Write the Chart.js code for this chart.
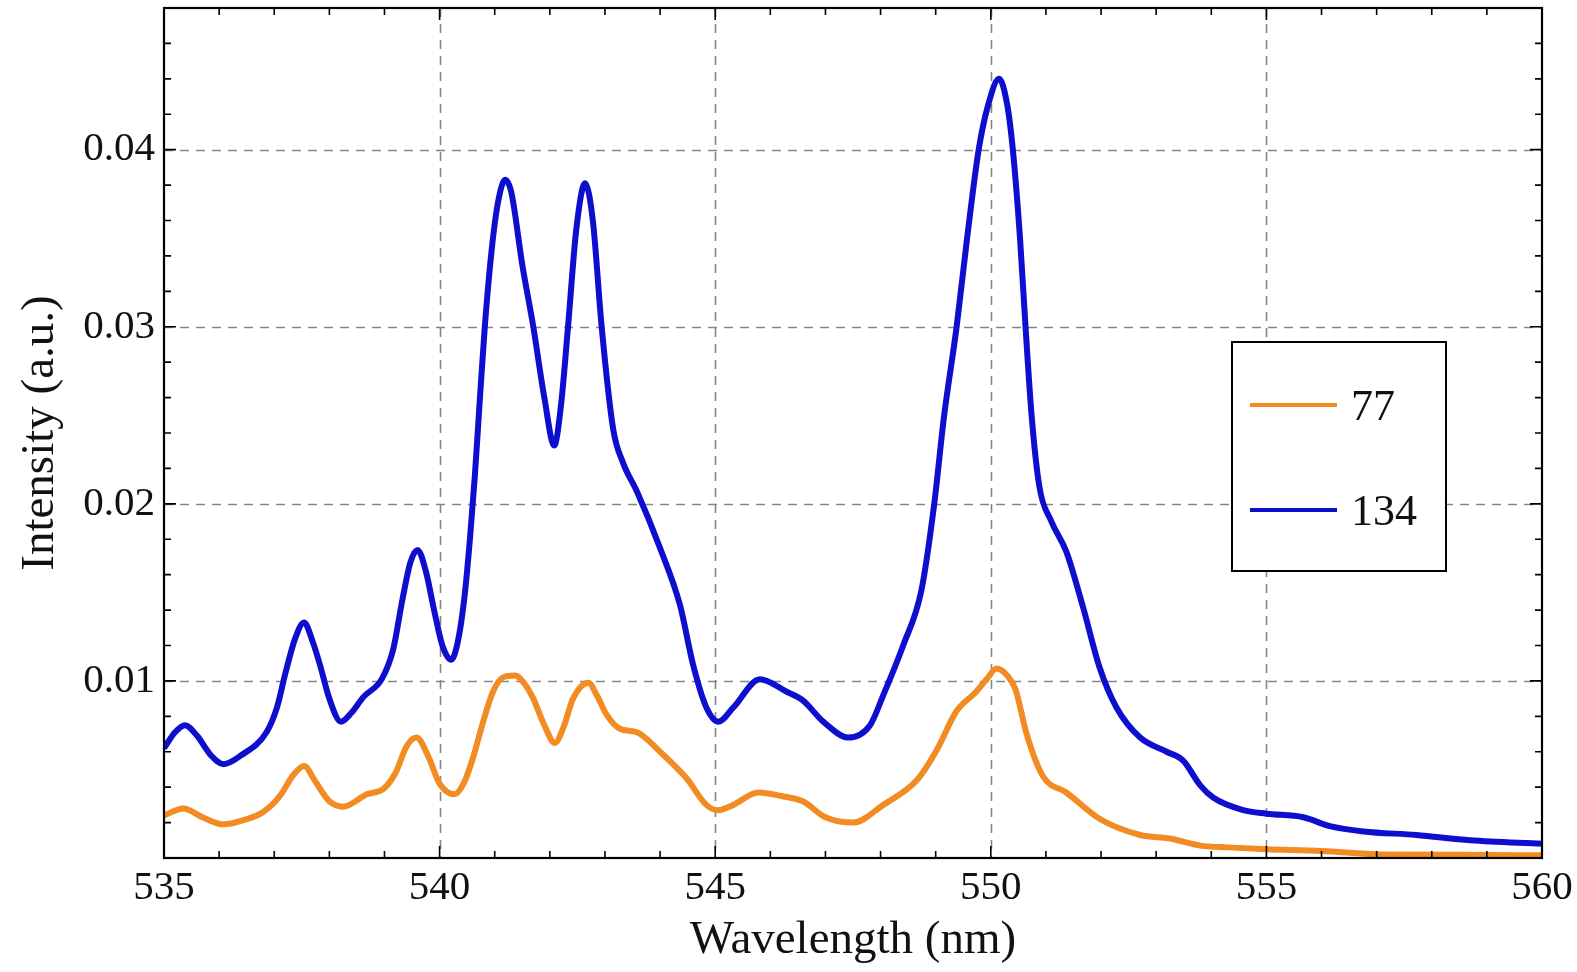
<!DOCTYPE html>
<html>
<head>
<meta charset="utf-8">
<title>Intensity vs wavelength</title>
<script src="https://cdn.jsdelivr.net/npm/chart.js@4.4.1/dist/chart.umd.min.js"></script>
<style>
  html, body { margin: 0; padding: 0; background: #fff; }
  canvas { display: block; }
</style>
</head>
<body>
<canvas id="spectrum" width="1577" height="972"></canvas>
<script>
// sample "77"
const wl77 = [535.0, 535.35, 535.7, 536.08, 536.5, 536.8, 537.1, 537.35, 537.54, 537.75,
  538.0, 538.25, 538.68, 538.98, 539.2, 539.4, 539.58, 539.8, 540.0, 540.27,
  540.45, 540.61, 540.8, 540.97, 541.15, 541.37, 541.55, 541.7, 541.9, 542.09,
  542.25, 542.42, 542.7, 542.85, 543.03, 543.27, 543.58, 544.0, 544.48, 544.84,
  545.05, 545.33, 545.78, 546.2, 546.59, 547.0, 547.5, 548.05, 548.66, 549.02,
  549.38, 549.74, 549.95, 550.1, 550.3, 550.45, 550.65, 550.95, 551.37, 551.98,
  552.71, 553.25, 553.8, 554.3, 555.0, 556.0, 557.1, 558.5, 560.0];
const int77 = [0.0024, 0.0028, 0.0023, 0.0019, 0.0022, 0.0026, 0.0035, 0.0047, 0.0052, 0.0043,
  0.0032, 0.0029, 0.0036, 0.0039, 0.0048, 0.0063, 0.0068, 0.0057, 0.0042, 0.0036,
  0.0043, 0.0057, 0.0078, 0.0094, 0.0102, 0.0103, 0.0098, 0.0090, 0.0075, 0.0065,
  0.0074, 0.0090, 0.0099, 0.0092, 0.0081, 0.0073, 0.0071, 0.0060, 0.0045, 0.0030,
  0.0027, 0.0030, 0.0037, 0.0035, 0.0032, 0.0023, 0.0020, 0.0030, 0.0044, 0.0061,
  0.0083, 0.0094, 0.0102, 0.0107, 0.0103, 0.0095, 0.0070, 0.0046, 0.0037, 0.0022,
  0.0013, 0.0011, 0.0007, 0.0006, 0.0005, 0.0004, 0.0002, 0.00018, 0.00015];

// sample "134"
const wl134 = [535.0, 535.2, 535.38, 535.6, 535.85, 536.08, 536.4, 536.86, 537.05, 537.2,
  537.38, 537.54, 537.7, 537.83, 538.0, 538.21, 538.4, 538.62, 538.95, 539.16,
  539.32, 539.47, 539.6, 539.75, 539.9, 540.05, 540.21, 540.33, 540.45, 540.55,
  540.64, 540.73, 540.82, 540.95, 541.07, 541.19, 541.3, 541.5, 541.7, 541.9,
  542.08, 542.2, 542.33, 542.48, 542.64, 542.78, 542.94, 543.15, 543.33, 543.58,
  544.0, 544.36, 544.6, 544.84, 545.06, 545.33, 545.81, 546.29, 546.59, 546.96,
  547.41, 547.81, 548.05, 548.41, 548.74, 548.97, 549.15, 549.38, 549.57, 549.78,
  549.95, 550.15, 550.3, 550.4, 550.53, 550.63, 550.74, 550.88, 551.1, 551.37,
  551.67, 551.98, 552.28, 552.71, 553.19, 553.49, 553.8, 554.04, 554.58, 555.0,
  555.67, 556.15, 556.76, 557.72, 558.7, 560.0];
const int134 = [0.0062, 0.0071, 0.0075, 0.0069, 0.0058, 0.0053, 0.0058, 0.0071, 0.0085, 0.0104,
  0.0124, 0.0133, 0.0122, 0.0109, 0.0090, 0.0077, 0.0082, 0.0091, 0.0101, 0.0118,
  0.0145, 0.0167, 0.0174, 0.0162, 0.0140, 0.0120, 0.0112, 0.0122, 0.0147, 0.0180,
  0.0216, 0.0259, 0.0300, 0.0345, 0.0372, 0.0383, 0.0376, 0.0335, 0.0300, 0.0260,
  0.0233, 0.0255, 0.0300, 0.0355, 0.0381, 0.0360, 0.0300, 0.0242, 0.0223, 0.0207,
  0.0175, 0.0143, 0.0109, 0.0085, 0.0077, 0.0085, 0.0101, 0.0094, 0.0089, 0.0077,
  0.0068, 0.0075, 0.0092, 0.0120, 0.0151, 0.0199, 0.0249, 0.0300, 0.0350, 0.0400,
  0.0425, 0.0440, 0.0425, 0.0400, 0.0350, 0.0300, 0.0250, 0.0210, 0.0190, 0.0173,
  0.0142, 0.0107, 0.0085, 0.0068, 0.0060, 0.0055, 0.0041, 0.0034, 0.0027, 0.0025,
  0.0023, 0.0018, 0.0015, 0.0013, 0.0010, 0.0008];

const seriesNames = ['77', '134'];
const seriesColors = ['#f28b22', '#0e0ece'];

const xMajor = [535, 540, 545, 550, 555, 560];
const xTickLabels = ['535', '540', '545', '550', '555', '560'];
const yMajor = [0.01, 0.02, 0.03, 0.04];
const yTickLabels = ['0.01', '0.02', '0.03', '0.04'];

const serif = '"Liberation Serif", "Times New Roman", serif';
Chart.defaults.font.family = serif;
Chart.defaults.color = '#111';

function labelFor(v, majors, labels) {
  const i = majors.findIndex(m => Math.abs(m - v) < 1e-9);
  return i < 0 ? '' : labels[i];
}

// dashed grid under the curves, boxed frame with inward ticks on top, legend inset
const frame = {
  id: 'frame',
  beforeDatasetsDraw(chart) {
    const { ctx, chartArea: a, scales: { x, y } } = chart;
    ctx.save();
    ctx.strokeStyle = '#858585';
    ctx.lineWidth = 1.6;
    ctx.setLineDash([9, 7]);
    xMajor.forEach(v => {
      if (v <= x.min || v >= x.max) return;
      const px = Math.round(x.getPixelForValue(v)) + 0.5;
      ctx.beginPath(); ctx.moveTo(px, a.top); ctx.lineTo(px, a.bottom); ctx.stroke();
    });
    yMajor.forEach(v => {
      const py = Math.round(y.getPixelForValue(v)) + 0.5;
      ctx.beginPath(); ctx.moveTo(a.left, py); ctx.lineTo(a.right, py); ctx.stroke();
    });
    ctx.restore();
  },
  afterDatasetsDraw(chart) {
    const { ctx, chartArea: a, scales: { x, y } } = chart;
    ctx.save();
    ctx.strokeStyle = '#000';
    ctx.lineWidth = 1.6;
    x.ticks.forEach(t => {
      const px = x.getPixelForValue(t.value);
      const len = labelFor(t.value, xMajor, xTickLabels) ? 12 : 7;
      ctx.beginPath();
      ctx.moveTo(px, a.bottom); ctx.lineTo(px, a.bottom - len);
      ctx.moveTo(px, a.top); ctx.lineTo(px, a.top + len);
      ctx.stroke();
    });
    y.ticks.forEach(t => {
      const py = y.getPixelForValue(t.value);
      const len = labelFor(t.value, yMajor, yTickLabels) ? 12 : 7;
      ctx.beginPath();
      ctx.moveTo(a.left, py); ctx.lineTo(a.left + len, py);
      ctx.moveTo(a.right, py); ctx.lineTo(a.right - len, py);
      ctx.stroke();
    });
    ctx.lineWidth = 2.2;
    ctx.strokeRect(a.left, a.top, a.right - a.left, a.bottom - a.top);
    ctx.restore();
  },
  afterDraw(chart) {
    const { ctx } = chart;
    const box = { left: 1232, top: 342, width: 214, height: 229 };
    ctx.save();
    ctx.fillStyle = '#fff';
    ctx.fillRect(box.left, box.top, box.width, box.height);
    ctx.strokeStyle = '#000';
    ctx.lineWidth = 2;
    ctx.strokeRect(box.left, box.top, box.width, box.height);
    ctx.font = '44px ' + serif;
    ctx.textBaseline = 'alphabetic';
    chart.data.datasets.forEach((ds, i) => {
      const rowY = box.top + 63 + i * 105;
      ctx.strokeStyle = ds.borderColor;
      ctx.lineWidth = 4;
      ctx.beginPath(); ctx.moveTo(box.left + 18, rowY); ctx.lineTo(box.left + 105, rowY); ctx.stroke();
      ctx.fillStyle = '#111';
      ctx.fillText(ds.label, box.left + 119, rowY + 15);
    });
    ctx.restore();
  }
};

const toPoints = (xs, ys) => xs.map((v, i) => ({ x: v, y: ys[i] }));

new Chart(document.getElementById('spectrum').getContext('2d'), {
  type: 'line',
  data: {
    datasets: [
      { label: seriesNames[0], data: toPoints(wl77, int77), borderColor: seriesColors[0] },
      { label: seriesNames[1], data: toPoints(wl134, int134), borderColor: seriesColors[1] }
    ]
  },
  options: {
    responsive: false,
    animation: false,
    parsing: false,
    layout: { padding: { left: 0, top: 8, right: 35, bottom: 0 } },
    elements: {
      line: { borderWidth: 6, cubicInterpolationMode: 'monotone', fill: false },
      point: { radius: 0, hoverRadius: 0 }
    },
    plugins: { legend: { display: false }, tooltip: { enabled: false } },
    scales: {
      x: {
        type: 'linear',
        min: 535, max: 560,
        grid: { display: false, drawTicks: false },
        border: { display: false },
        ticks: {
          stepSize: 1, autoSkip: false, maxRotation: 0, minRotation: 0, padding: 6,
          font: { size: 41 },
          callback: v => labelFor(v, xMajor, xTickLabels)
        },
        title: { display: true, text: 'Wavelength (nm)', font: { size: 47 }, padding: { top: 0, bottom: 3 } },
        afterFit: s => { s.height = 114; s.paddingLeft = 0; s.paddingRight = 0; }
      },
      y: {
        type: 'linear',
        min: 0, max: 0.048,
        grid: { display: false, drawTicks: false },
        border: { display: false },
        ticks: {
          stepSize: 0.002, autoSkip: false, padding: 9,
          font: { size: 41 },
          callback: v => labelFor(v, yMajor, yTickLabels)
        },
        title: { display: true, text: 'Intensity (a.u.)', font: { size: 47 }, padding: { top: 12, bottom: 0 } },
        afterFit: s => { s.width = 164; s.paddingTop = 0; s.paddingBottom = 0; }
      }
    }
  },
  plugins: [frame]
});
</script>
</body>
</html>
